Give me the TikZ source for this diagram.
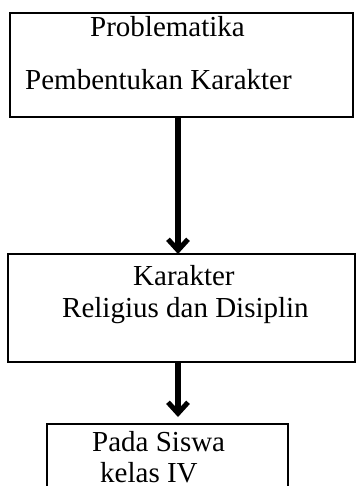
\documentclass[tikz,border=0pt]{standalone}
\usepackage{fontspec}
\setmainfont{Liberation Serif}
\usetikzlibrary{arrows.meta}
\begin{document}
\begin{tikzpicture}[x=1pt,y=-1pt,
  box/.style={draw,line width=2.6pt,inner sep=0pt,outer sep=0pt},
  lbl/.style={anchor=base west,inner sep=0pt,font=\fontsize{29}{34}\selectfont},
  flow/.style={line width=5.5pt,-{Straight Barb[length=11pt,width=20pt,line width=5pt]}}]
\useasboundingbox (0,0) rectangle (356,486);
\clip (0,0) rectangle (356,486);
\node[box,minimum width=343pt,minimum height=104pt] (b1) at (181.5,65) {};
\node[box,minimum width=347pt,minimum height=108pt] (b2) at (181.5,308) {};
\node[box,minimum width=241pt,minimum height=120pt] (b3) at (167.5,484) {};
\node[lbl] (t1) at (90,37) {Problematika};
\node[lbl] (t2) at (25,90) {Pembentukan Karakter};
\node[lbl] (t3) at (133,285) {Karakter};
\node[lbl] (t4) at (62,317) {Religius dan Disiplin};
\node[lbl] (t5) at (92,451) {Pada Siswa};
\node[lbl] (t6) at (100,482) {kelas IV};
\coordinate (ax) at (178,0);
\draw[flow,shorten <=1pt] (b1.south -| ax) -- (b2.north -| ax);
\draw[flow,shorten <=1pt,shorten >=7pt] (b2.south -| ax) -- (b3.north -| ax);
\end{tikzpicture}
\end{document}
